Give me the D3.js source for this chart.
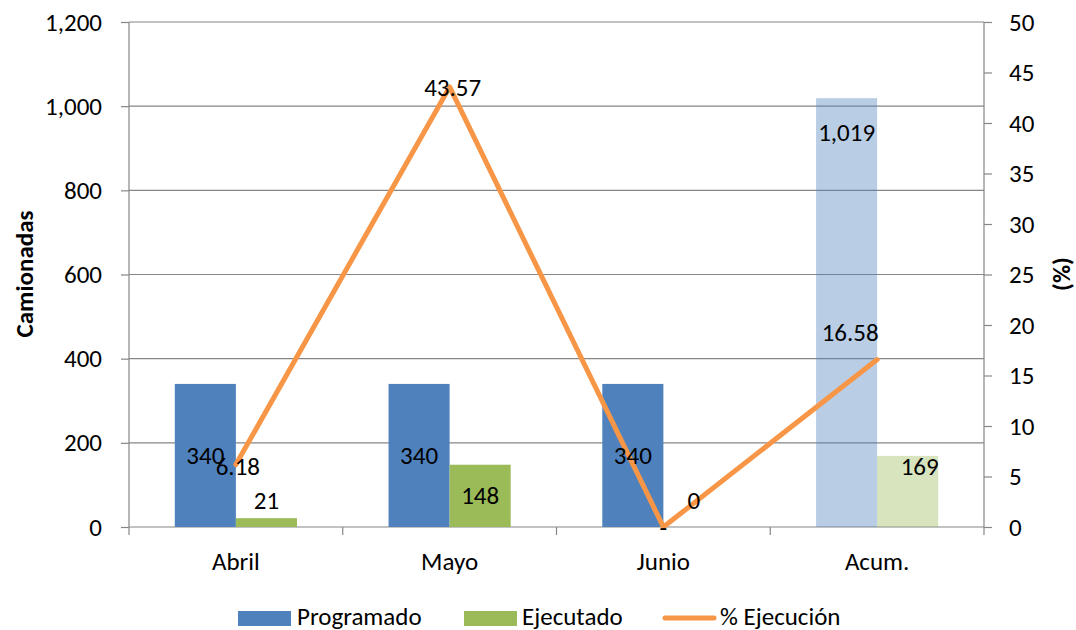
<!DOCTYPE html>
<html>
<head>
<meta charset="utf-8">
<script src="https://cdn.jsdelivr.net/npm/d3@7"></script>
<style>
  body { margin: 0; background: #fff; }
  svg text { font-family: Carlito, Lato, "Open Sans", sans-serif; fill: #000; }
</style>
</head>
<body>
<div id="chart"></div>
<script>
// data
var categories = ["Abril", "Mayo", "Junio", "Acum."];
var programado = [340, 340, 340, 1019];
var ejecutado = [21, 148, 0, 169];
var ejecucion = [6.18, 43.57, 0, 16.58];
var ejecucionText = ["6.18", "43.57", "-", "16.58"];
var leftTicks = [0, 200, 400, 600, 800, 1000, 1200];
var rightTicks = [0, 5, 10, 15, 20, 25, 30, 35, 40, 45, 50];
var seriesNames = ["Programado", "Ejecutado"];

var w = 1076, h = 630;
var pLeft = 129, pRight = 984, pTop = 22, pBottom = 527;
var grey = "#868686";
var fs = "25px";
var colors = { Programado: "#4F81BD", Ejecutado: "#9BBB59", line: "#F79646" };

var svg = d3.select("#chart").append("svg")
    .attr("width", w)
    .attr("height", h);

var x = d3.scaleBand().domain(categories).range([pLeft, pRight]);
var xs = d3.scaleBand().domain(seriesNames).range([0, x.bandwidth()]).paddingOuter(0.75);
var yL = d3.scaleLinear().domain([0, 1200]).range([pBottom, pTop]);
var yR = d3.scaleLinear().domain([0, 50]).range([pBottom, pTop]);

// gridlines
svg.append("g").selectAll("line")
    .data(leftTicks)
    .enter()
    .append("line")
    .attr("x1", pLeft).attr("x2", pRight)
    .attr("y1", function(d) { return yL(d); })
    .attr("y2", function(d) { return yL(d); })
    .attr("stroke", grey)
    .attr("stroke-width", 1.2);

// bars
var rows = categories.map(function(c, i) {
    return { cat: c, i: i, vals: [
        { s: "Programado", v: programado[i] },
        { s: "Ejecutado", v: ejecutado[i] }
    ]};
});

var groups = svg.append("g").selectAll("g")
    .data(rows)
    .enter()
    .append("g")
    .attr("transform", function(d) { return "translate(" + x(d.cat) + ",0)"; });

groups.selectAll("rect")
    .data(function(d) { return d.vals.map(function(v) { v.i = d.i; return v; }); })
    .enter()
    .append("rect")
    .attr("x", function(d) { return xs(d.s); })
    .attr("width", xs.bandwidth())
    .attr("y", function(d) { return yL(d.v); })
    .attr("height", function(d) { return pBottom - yL(d.v); })
    .attr("fill", function(d) { return colors[d.s]; })
    .attr("fill-opacity", function(d) { return d.i === 3 ? 0.4 : 1; });

// axes
var axL = d3.axisLeft(yL).tickValues(leftTicks).tickSize(8).tickPadding(19)
    .tickFormat(d3.format(","));
var gL = svg.append("g").attr("transform", "translate(" + pLeft + ",0)").call(axL);

var axR = d3.axisRight(yR).tickValues(rightTicks).tickSize(8).tickPadding(17);
var gR = svg.append("g").attr("transform", "translate(" + pRight + ",0)").call(axR);

[gL, gR].forEach(function(g) {
    g.select("path.domain").attr("stroke", grey).attr("stroke-width", 1.2)
        .attr("d", "M0," + pTop + "V" + (pBottom + 8));
    g.selectAll("line").attr("stroke", grey).attr("stroke-width", 1.2);
    g.selectAll("text").attr("font-size", fs).attr("fill", "#000");
});

// category ticks + labels
svg.append("g").selectAll("line")
    .data(d3.range(1, categories.length))
    .enter()
    .append("line")
    .attr("x1", function(d) { return pLeft + d * x.step(); })
    .attr("x2", function(d) { return pLeft + d * x.step(); })
    .attr("y1", pBottom).attr("y2", pBottom + 8)
    .attr("stroke", grey).attr("stroke-width", 1.2);

svg.append("g").selectAll("text")
    .data(categories)
    .enter()
    .append("text")
    .attr("x", function(d) { return x(d) + x.bandwidth() / 2; })
    .attr("y", 570)
    .attr("text-anchor", "middle")
    .attr("font-size", fs)
    .text(function(d) { return d; });

// line
var line = d3.line()
    .x(function(d, i) { return x(categories[i]) + x.bandwidth() / 2; })
    .y(function(d) { return yR(d); });

svg.append("path")
    .datum(ejecucion)
    .attr("d", line)
    .attr("fill", "none")
    .attr("stroke", colors.line)
    .attr("stroke-width", 5)
    .attr("stroke-linecap", "round")
    .attr("stroke-linejoin", "round");

// data labels (manual nudges, like the original)
var progNudge = [["mid", 0], ["mid", 0], ["mid", 0], ["top", 34]];
var ejecNudge = [[0, -18], [0, "mid"], [0, -27], [12, 11]];
var lineNudge = [[2, 2], [3, 1], [0, 0], [-27, -27]];

function label(px, py, t) {
    svg.append("text")
        .attr("x", px).attr("y", py)
        .attr("text-anchor", "middle")
        .attr("dominant-baseline", "central")
        .attr("font-size", fs)
        .text(t);
}

categories.forEach(function(c, i) {
    var bx = x(c) + xs("Programado") + xs.bandwidth() / 2;
    var by = progNudge[i][0] === "mid" ? (yL(programado[i]) + pBottom) / 2 : yL(programado[i]) + progNudge[i][1];
    label(bx, by, d3.format(",")(programado[i]));

    var ex = x(c) + xs("Ejecutado") + xs.bandwidth() / 2 + ejecNudge[i][0];
    var ey = ejecNudge[i][1] === "mid" ? (yL(ejecutado[i]) + pBottom) / 2 : yL(ejecutado[i]) + ejecNudge[i][1];
    label(ex, ey, d3.format(",")(ejecutado[i]));
});

categories.forEach(function(c, i) {
    label(x(c) + x.bandwidth() / 2 + lineNudge[i][0], yR(ejecucion[i]) + lineNudge[i][1], ejecucionText[i]);
});

// axis titles
svg.append("text")
    .attr("transform", "translate(33,274) rotate(-90)")
    .attr("text-anchor", "middle")
    .attr("font-size", "25px")
    .attr("font-weight", "bold")
    .text("Camionadas");

svg.append("text")
    .attr("transform", "translate(1070,274) rotate(-90)")
    .attr("text-anchor", "middle")
    .attr("font-size", "25px")
    .attr("font-weight", "bold")
    .text("(%)");

// legend
var leg = svg.append("g");
leg.append("rect").attr("x", 238).attr("y", 611).attr("width", 53).attr("height", 15).attr("fill", colors.Programado);
leg.append("text").attr("x", 297).attr("y", 625).attr("font-size", fs).text("Programado");
leg.append("rect").attr("x", 464).attr("y", 611).attr("width", 53).attr("height", 15).attr("fill", colors.Ejecutado);
leg.append("text").attr("x", 522).attr("y", 625).attr("font-size", fs).text("Ejecutado");
leg.append("line").attr("x1", 665).attr("x2", 714).attr("y1", 618).attr("y2", 618)
    .attr("stroke", colors.line).attr("stroke-width", 5).attr("stroke-linecap", "round");
leg.append("text").attr("x", 720).attr("y", 625).attr("font-size", fs).text("% Ejecución");
</script>
</body>
</html>
